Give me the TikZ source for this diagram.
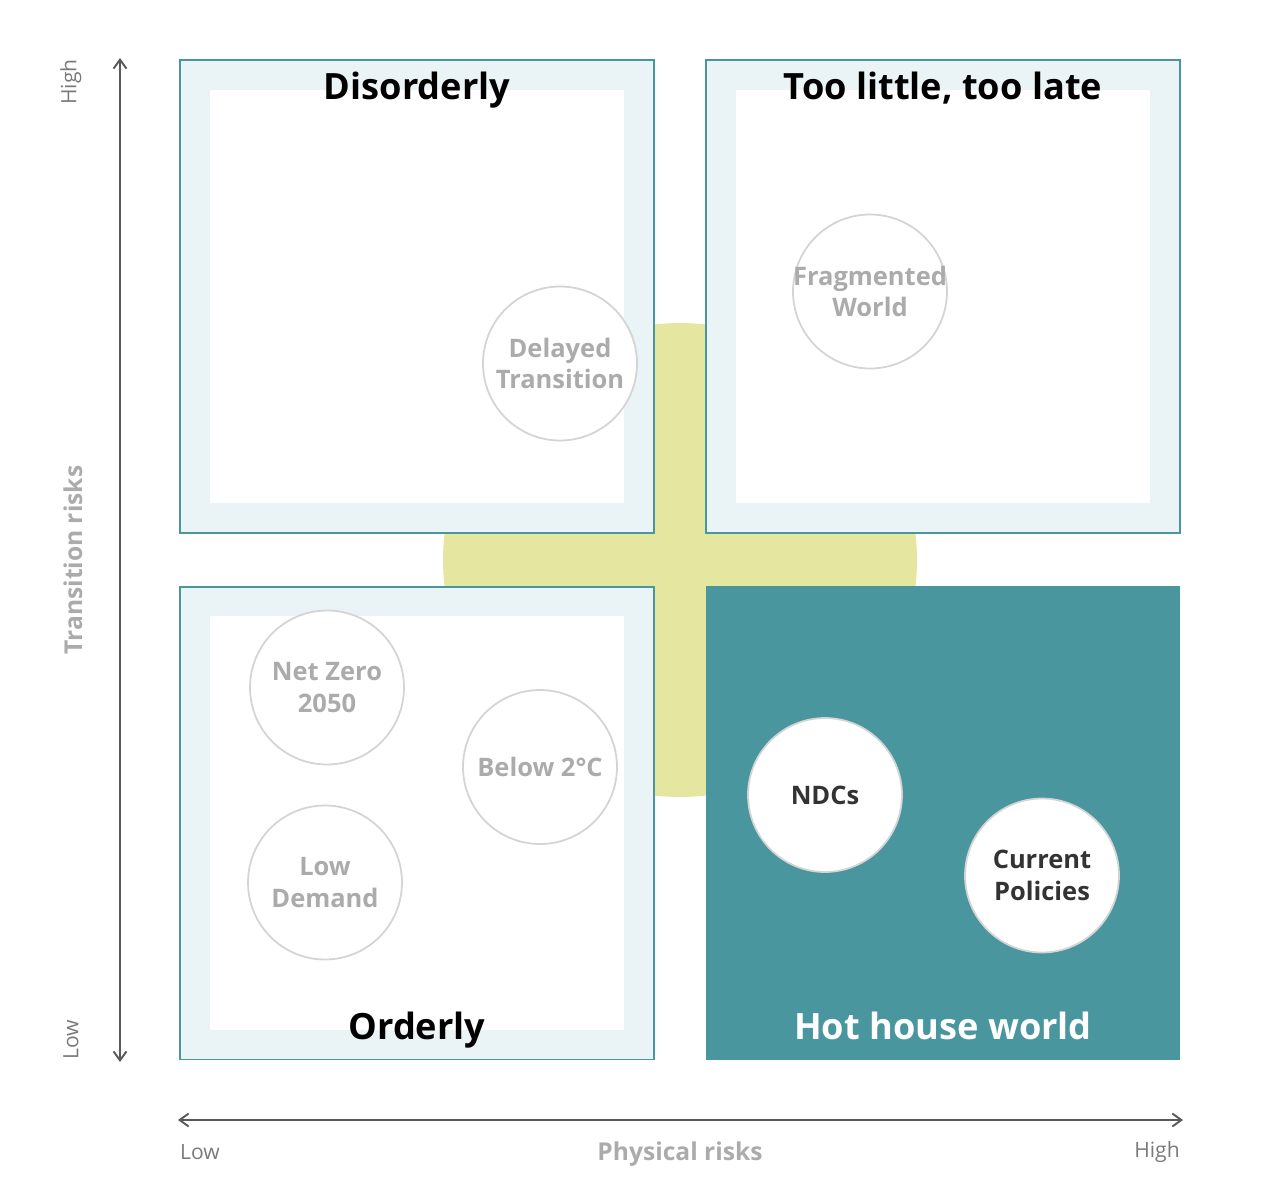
\documentclass[tikz,border=0pt]{standalone}
\usepackage{fontspec}
\setmainfont{Open Sans}
\usetikzlibrary{arrows.meta}
\definecolor{ngfsteal}{HTML}{4A969F}
\definecolor{ngfslight}{HTML}{EAF3F5}
\definecolor{ngfsyellow}{HTML}{E5E6A0}
\definecolor{ngfsring}{HTML}{D4D4D4}
\definecolor{ngfsgrey}{HTML}{ABABAB}
\definecolor{ngfsaxis}{HTML}{5A5A5A}
\definecolor{ngfslabel}{HTML}{7A7A7A}
\definecolor{ngfsdark}{HTML}{333333}

\begin{document}
\begin{tikzpicture}[
    x=0.02cm, y=-0.02cm,
    quadrant/.style={rectangle, draw=ngfsteal, fill=ngfslight, line width=1.1pt, minimum width=9.48cm, minimum height=9.46cm, inner sep=0pt},
    innerbox/.style={rectangle, fill=white, minimum width=8.3cm, minimum height=8.28cm, inner sep=0pt},
    hotbox/.style={rectangle, fill=ngfsteal, minimum width=9.5cm, minimum height=9.48cm, inner sep=0pt},
    title/.style={font=\fontsize{20.6}{24}\selectfont\bfseries, anchor=base},
    scenario/.style={circle, draw=ngfsring, fill=white, line width=1pt, minimum size=3.08cm, inner sep=-5mm, align=center, text=ngfsgrey, font=\fontsize{14.5}{18.1}\selectfont\bfseries},
    hotscenario/.style={scenario, text=ngfsdark},
    axis/.style={{Straight Barb[length=1.8mm, width=2.6mm]}-{Straight Barb[length=1.8mm, width=2.6mm]}, line width=1.1pt, ngfsaxis},
    axislabel/.style={font=\fontsize{12}{14}\selectfont, text=ngfslabel},
    axistitle/.style={font=\fontsize{14}{16}\selectfont\bfseries, text=ngfsgrey}
]
\useasboundingbox (0,0) rectangle (1268,1198);

% background glow
\node[circle, fill=ngfsyellow, minimum size=9.48cm, inner sep=0pt] (glow) at (680,560) {};

% quadrants
\node[quadrant] (disorderly) at (417,296.5) {};
\node[innerbox] at (disorderly) {};
\node[quadrant] (toolate) at (943,296.5) {};
\node[innerbox] at (toolate) {};
\node[quadrant] (orderly) at (417,823) {};
\node[innerbox] at (orderly) {};
\node[hotbox] (hothouse) at (943,823) {};

\node[title] (t1) at (417,99) {Disorderly};
\node[title] (t2) at (943,99) {Too little, too late};
\node[title] (t3) at (417,1039) {Orderly};
\node[title, text=white] (t4) at (943,1039) {Hot house world};

% scenarios
\node[scenario] (delayed) at (560,363.5) {Delayed\\Transition};
\node[scenario] (fragmented) at (870,291.5) {Fragmented\\World};
\node[scenario] (netzero) at (327,687.5) {Net Zero\\2050};
\node[scenario] (below) at (540,767) {Below 2°C};
\node[scenario] (lowdemand) at (325,882.5) {Low\\Demand};
\node[hotscenario] (ndcs) at (825,795) {NDCs};
\node[hotscenario] (current) at (1042,875.5) {Current\\Policies};

% axes
\coordinate (ylow) at (120,1062);
\coordinate (yhigh) at (120,58);
\coordinate (xlow) at (178,1120);
\coordinate (xhigh) at (1183,1120);
\draw[axis] (ylow) -- (yhigh);
\draw[axis] (xlow) -- (xhigh);

\node[axislabel, rotate=90] (yh) at (71,82) {High};
\node[axislabel, rotate=90] (yl) at (71,1040) {Low};
\node[axistitle, rotate=90] (ytitle) at (73,560) {Transition risks};
\node[axislabel] (xl) at (200,1152) {Low};
\node[axislabel] (xh) at (1157,1152) {High};
\node[axistitle] (xtitle) at (680,1154) {Physical risks};

\end{tikzpicture}
\end{document}
